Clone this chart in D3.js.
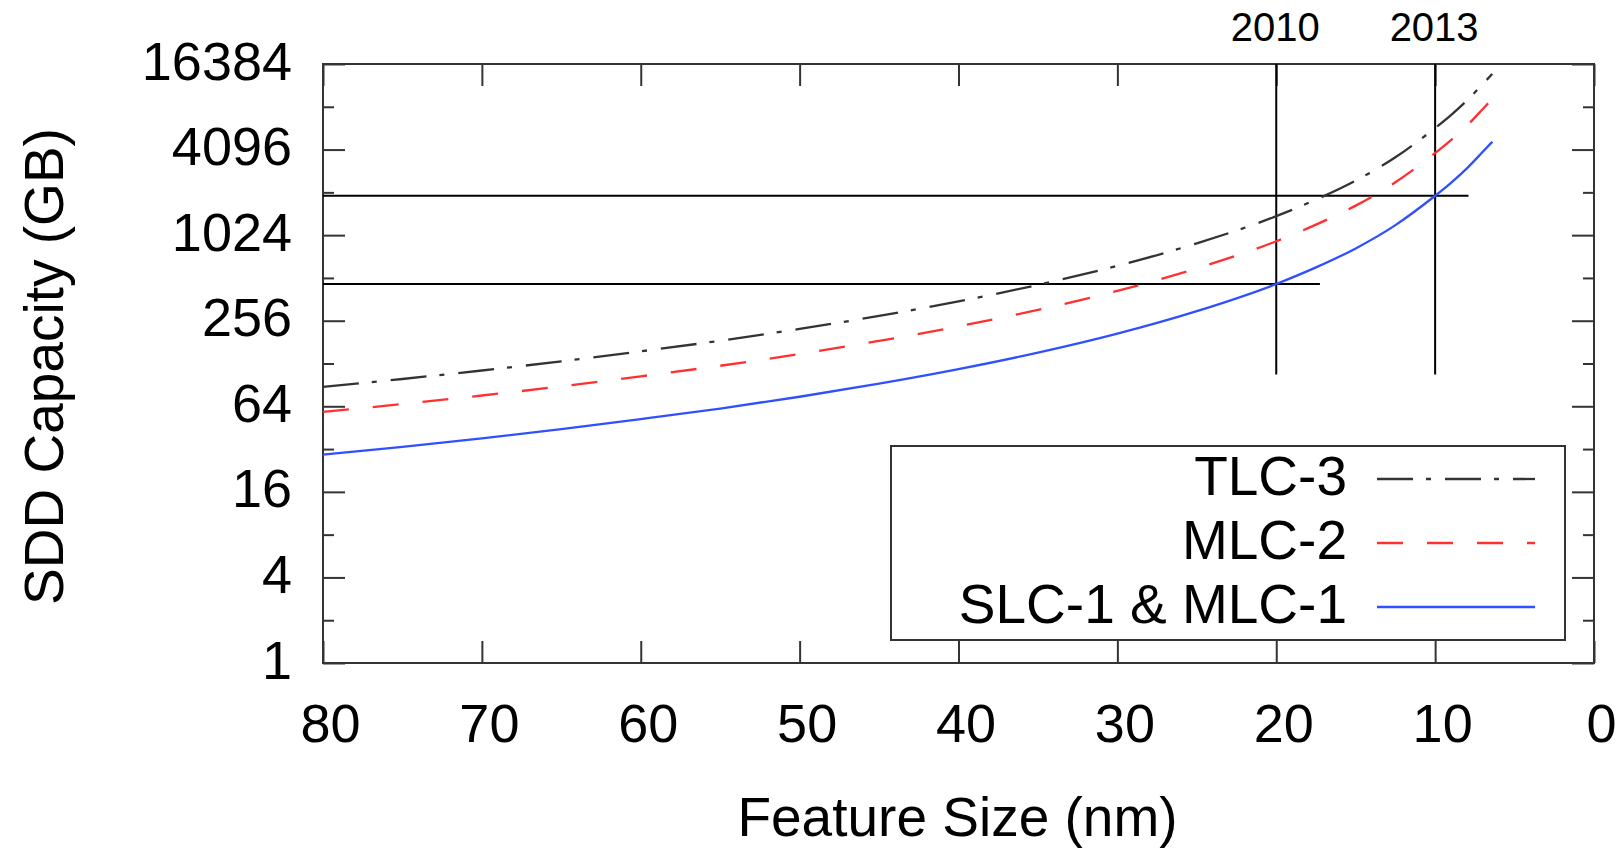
<!DOCTYPE html>
<html>
<head>
<meta charset="utf-8">
<script src="https://cdn.jsdelivr.net/npm/d3@7"></script>
<style>
  html, body { margin: 0; padding: 0; background: #fff; }
  svg { display: block; font-family: "Liberation Sans", Arial, Helvetica, sans-serif; }
</style>
</head>
<body>
<svg id="chart" width="1621" height="849"></svg>
<script>
// Feature size (nm) sampled along each curve
const featureSize = [80, 75, 70, 65, 60, 55, 50, 45, 40, 35, 30, 25, 20, 17.5, 15, 12.5, 10, 9, 8, 7, 6.4];

// SSD capacity (GB) per cell technology
const slc1mlc1 = [29.2, 33.2, 38.1, 44.2, 52, 61.7, 74.7, 92.3, 116.8, 152.6, 207.7, 299, 464, 607, 826, 1205, 1938, 2390, 3020, 3950, 4650];
const mlc2     = [58.4, 66.4, 76.2, 88.4, 104, 123.4, 149.4, 184.6, 233.6, 305.2, 415.4, 598, 928, 1214, 1652, 2410, 3876, 4780, 6040, 7900, 9300];
const tlc3     = [87.6, 99.6, 114.3, 132.6, 156, 185.1, 224.1, 276.9, 350.4, 457.8, 623.1, 897, 1392, 1821, 2478, 3615, 5814, 7170, 9060, 11850, 13950];

const seriesNames = ["TLC-3", "MLC-2", "SLC-1 & MLC-1"];

// Axis ticks
const xTicks = [80, 70, 60, 50, 40, 30, 20, 10, 0];
const yMajorTicks = [1, 4, 16, 64, 256, 1024, 4096, 16384];
const yMinorTicks = [2, 8, 32, 128, 512, 2048, 8192];

// Year markers (feature size, capacity reached by SLC-1 at that node)
const yearLabels = ["2010", "2013"];
const yearFeature = [20, 10];
const yearVLineBottom = [107, 107];
const yearCapacity = [464, 1938];
const yearHLineEnd = [17.25, 7.9];

const svg = d3.select("#chart");
const plot = { left: 323, right: 1594, top: 64, bottom: 663 };

const x = d3.scaleLinear().domain([80, 0]).range([plot.left, plot.right]);
const y = d3.scaleLog().base(2).domain([1, 16384]).range([plot.bottom, plot.top]);

const frameColor = "#333";

// ---- axes (ticks point inward on all four sides) ----
function styleAxis(g) {
  g.select(".domain").remove();
  g.selectAll(".tick line").attr("stroke", frameColor).attr("stroke-width", 2);
  g.selectAll(".tick text").attr("fill", "#000").attr("font-size", 54)
    .attr("font-family", '"Liberation Sans", Arial, Helvetica, sans-serif');
}

svg.append("g").attr("transform", `translate(0,${plot.bottom})`)
  .call(d3.axisBottom(x).tickValues(xTicks).tickFormat(d3.format("d"))
    .tickSizeInner(-22).tickSizeOuter(0).tickPadding(40.5))
  .call(styleAxis)
  .call(g => g.selectAll(".tick text").attr("dx", 7));

svg.append("g").attr("transform", `translate(0,${plot.top})`)
  .call(d3.axisTop(x).tickValues(xTicks).tickFormat("").tickSizeInner(-22).tickSizeOuter(0))
  .call(styleAxis);

svg.append("g").attr("transform", `translate(${plot.left},0)`)
  .call(d3.axisLeft(y).tickValues(yMajorTicks).tickFormat(d3.format("d"))
    .tickSizeInner(-22).tickSizeOuter(0).tickPadding(31))
  .call(styleAxis)
  .call(g => g.selectAll(".tick text").attr("dy", "0.28em"));

svg.append("g").attr("transform", `translate(${plot.left},0)`)
  .call(d3.axisLeft(y).tickValues(yMinorTicks).tickFormat("").tickSizeInner(-11).tickSizeOuter(0))
  .call(styleAxis);

svg.append("g").attr("transform", `translate(${plot.right},0)`)
  .call(d3.axisRight(y).tickValues(yMajorTicks).tickFormat("").tickSizeInner(-22).tickSizeOuter(0))
  .call(styleAxis);

svg.append("g").attr("transform", `translate(${plot.right},0)`)
  .call(d3.axisRight(y).tickValues(yMinorTicks).tickFormat("").tickSizeInner(-11).tickSizeOuter(0))
  .call(styleAxis);

// ---- plot frame ----
svg.append("rect")
  .attr("x", plot.left).attr("y", plot.top)
  .attr("width", plot.right - plot.left).attr("height", plot.bottom - plot.top)
  .attr("fill", "none").attr("stroke", frameColor).attr("stroke-width", 2);

// ---- year reference lines ----
const refs = svg.append("g").attr("stroke", "#000").attr("stroke-width", 2);
yearLabels.forEach((lab, i) => {
  refs.append("line")
    .attr("x1", x(yearFeature[i])).attr("x2", x(yearFeature[i]))
    .attr("y1", y(16384)).attr("y2", y(yearVLineBottom[i]));
  refs.append("line")
    .attr("x1", x(80)).attr("x2", x(yearHLineEnd[i]))
    .attr("y1", y(yearCapacity[i])).attr("y2", y(yearCapacity[i]));
  svg.append("text")
    .attr("x", x(yearFeature[i]) - 1).attr("y", plot.top - 23.5)
    .attr("text-anchor", "middle").attr("font-size", 40).attr("fill", "#000")
    .text(lab);
});

// ---- curves ----
const series = [
  { name: seriesNames[0], values: tlc3,     color: "#333333", dash: "36,13,5,14" },
  { name: seriesNames[1], values: mlc2,     color: "#ff3030", dash: "26,24" },
  { name: seriesNames[2], values: slc1mlc1, color: "#3050ff", dash: null }
];

const line = d3.line()
  .x(d => x(d[0]))
  .y(d => y(d[1]))
  .curve(d3.curveMonotoneX);

series.forEach(s => {
  svg.append("path")
    .datum(featureSize.map((f, i) => [f, s.values[i]]))
    .attr("d", line)
    .attr("fill", "none")
    .attr("stroke", s.color)
    .attr("stroke-width", 2.3)
    .attr("stroke-dasharray", s.dash);
});

// ---- legend ----
const legend = { x0: 891, x1: 1565, y0: 446, y1: 640 };
svg.append("rect")
  .attr("x", legend.x0).attr("y", legend.y0)
  .attr("width", legend.x1 - legend.x0).attr("height", legend.y1 - legend.y0)
  .attr("fill", "#fff").attr("stroke", frameColor).attr("stroke-width", 2);

series.forEach((s, i) => {
  const cy = 479 + i * 64;
  svg.append("text")
    .attr("x", 1347).attr("y", cy + 15.5)
    .attr("text-anchor", "end").attr("font-size", 55).attr("fill", "#000")
    .text(s.name);
  svg.append("line")
    .attr("x1", 1377).attr("x2", 1535).attr("y1", cy).attr("y2", cy)
    .attr("stroke", s.color).attr("stroke-width", 2.3)
    .attr("stroke-dasharray", s.dash);
});

// ---- axis titles ----
svg.append("text")
  .attr("x", (plot.left + plot.right) / 2 - 1).attr("y", 836)
  .attr("text-anchor", "middle").attr("font-size", 55).attr("fill", "#000")
  .text("Feature Size (nm)");

svg.append("text")
  .attr("transform", `translate(63,${(plot.top + plot.bottom) / 2 + 3}) rotate(-90)`)
  .attr("text-anchor", "middle").attr("font-size", 55).attr("fill", "#000")
  .text("SDD Capacity (GB)");
</script>
</body>
</html>
